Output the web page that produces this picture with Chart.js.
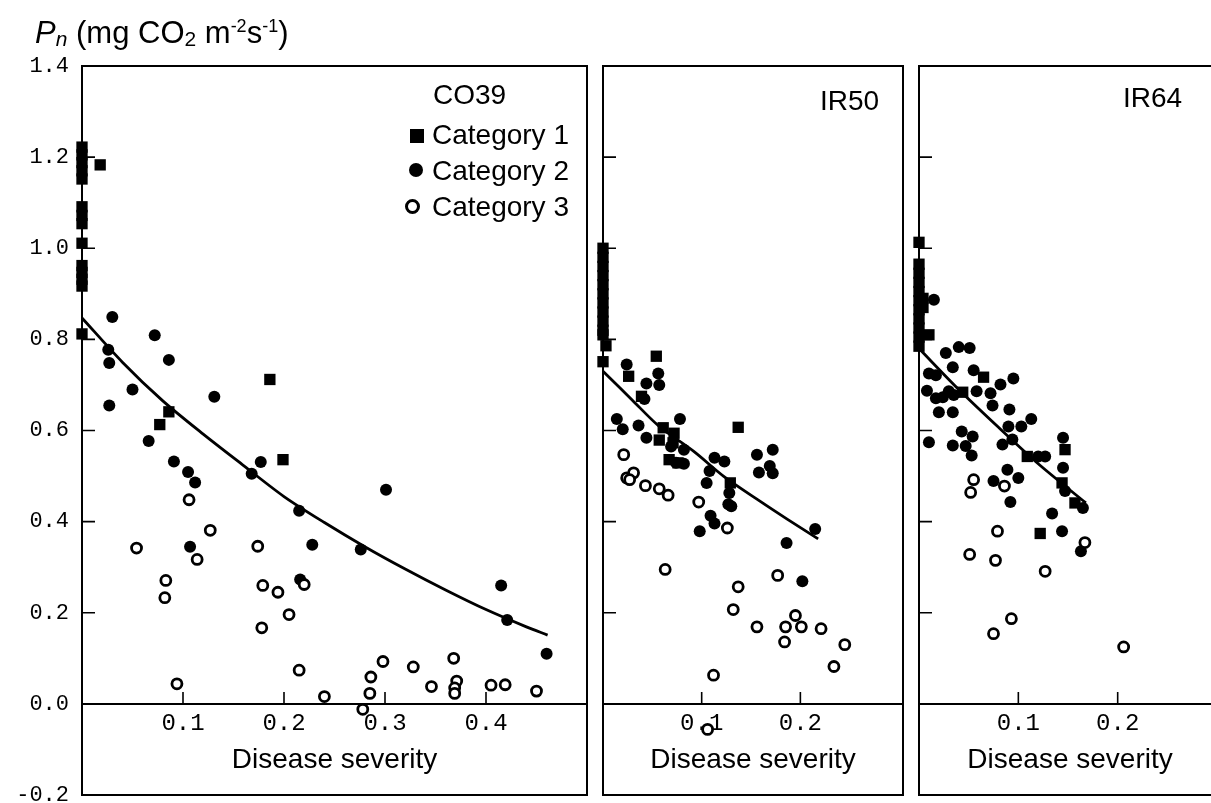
<!DOCTYPE html>
<html>
<head>
<meta charset="utf-8">
<script src="https://cdn.jsdelivr.net/npm/chart.js@4/dist/chart.umd.min.js"></script>
<style>
html,body{margin:0;padding:0;background:#fff;overflow:hidden;width:1211px;height:803px;}
#wrap{position:relative;width:1211px;height:803px;overflow:hidden;background:#fff;}
canvas{position:absolute;top:0;}
.txt{position:absolute;font-family:"Liberation Sans",Arial,Helvetica,sans-serif;color:#000;white-space:nowrap;line-height:1;}
.sub{position:relative;top:3px;font-size:21px;}
.sup{position:relative;top:-11px;font-size:18px;}
.mk{position:absolute;background:#000;}
</style>
</head>
<body>
<div id="wrap">
  <canvas id="c1" width="595" height="803" style="left:0px;width:595px;height:803px"></canvas>
  <canvas id="c2" width="316" height="803" style="left:595px;width:316px;height:803px"></canvas>
  <canvas id="c3" width="320" height="803" style="left:911px;width:320px;height:803px"></canvas>

  <div class="txt" style="left:35px;top:17px;font-size:31px"><i>P</i><span class="sub"><i>n</i></span> (mg CO<span class="sub">2</span> m<span class="sup">-2</span>s<span class="sup">-1</span>)</div>

  <div class="txt" style="left:433px;top:81px;font-size:28px">CO39</div>
  <div class="txt" style="left:820px;top:87px;font-size:28px">IR50</div>
  <div class="txt" style="left:1123px;top:84px;font-size:28px">IR64</div>

  <div class="mk" style="left:410px;top:129px;width:14px;height:14px"></div>
  <div class="txt" style="left:432px;top:121px;font-size:28px">Category 1</div>
  <div class="mk" style="left:409px;top:163px;width:14px;height:14px;border-radius:50%"></div>
  <div class="txt" style="left:432px;top:157px;font-size:28px">Category 2</div>
  <div class="mk" style="left:405px;top:199px;width:9px;height:9px;border-radius:50%;background:#fff;border:3px solid #000"></div>
  <div class="txt" style="left:432px;top:193px;font-size:28px">Category 3</div>
</div>
<script>
// ---------- data ----------
const yTickLabels = [1.4, 1.2, 1.0, 0.8, 0.6, 0.4, 0.2, 0.0, -0.2];
const yTickMarks = [1.2, 1.0, 0.8, 0.6, 0.4, 0.2];
const xTicksCO39 = [0.1, 0.2, 0.3, 0.4];
const xTicksIR = [0.1, 0.2];
const xTitle = 'Disease severity';

const co39Cat1 = [[0,1.222],[0,1.205],[0,1.188],[0,1.17],[0,1.152],[0.018,1.183],[0,1.091],[0,1.072],[0,1.054],[0,1.011],[0,0.962],[0,0.947],[0,0.932],[0,0.917],[0,0.812],[0.077,0.613],[0.086,0.641],[0.186,0.712],[0.199,0.536]];
const co39Cat2 = [[0.030,0.849],[0.026,0.777],[0.027,0.748],[0.027,0.655],[0.050,0.690],[0.072,0.809],[0.086,0.755],[0.066,0.577],[0.091,0.532],[0.105,0.509],[0.112,0.486],[0.107,0.345],[0.131,0.674],[0.168,0.505],[0.177,0.531],[0.215,0.424],[0.228,0.349],[0.216,0.273],[0.276,0.339],[0.301,0.470],[0.415,0.260],[0.421,0.184],[0.460,0.110]];
const co39Cat3 = [[0.106,0.448],[0.127,0.381],[0.054,0.342],[0.114,0.317],[0.083,0.271],[0.082,0.233],[0.174,0.346],[0.179,0.260],[0.194,0.245],[0.178,0.167],[0.205,0.196],[0.220,0.262],[0.215,0.074],[0.094,0.044],[0.240,0.016],[0.278,-0.012],[0.285,0.023],[0.286,0.059],[0.298,0.093],[0.328,0.081],[0.346,0.038],[0.368,0.100],[0.371,0.050],[0.369,0.035],[0.369,0.023],[0.405,0.041],[0.419,0.042],[0.450,0.028]];
const co39Fit = [[0,0.847],[0.04,0.75],[0.08,0.665],[0.12,0.592],[0.16,0.523],[0.2,0.455],[0.24,0.398],[0.28,0.345],[0.32,0.296],[0.36,0.250],[0.40,0.207],[0.44,0.169],[0.461,0.151]];

const ir50Cat1 = [[0,1.0],[0,0.98],[0,0.96],[0,0.94],[0,0.92],[0,0.90],[0,0.88],[0,0.86],[0,0.84],[0,0.82],[0,0.81],[0.003,0.786],[0,0.751],[0.054,0.763],[0.026,0.719],[0.039,0.675],[0.061,0.606],[0.057,0.579],[0.072,0.594],[0.071,0.573],[0.067,0.536],[0.076,0.529],[0.137,0.607],[0.129,0.485]];
const ir50Cat2 = [[0.024,0.745],[0.044,0.703],[0.056,0.725],[0.057,0.700],[0.042,0.669],[0.014,0.625],[0.020,0.603],[0.036,0.611],[0.044,0.584],[0.078,0.625],[0.069,0.565],[0.082,0.558],[0.082,0.527],[0.074,0.529],[0.113,0.540],[0.123,0.532],[0.108,0.511],[0.105,0.485],[0.128,0.463],[0.127,0.438],[0.130,0.434],[0.109,0.413],[0.113,0.396],[0.098,0.379],[0.156,0.547],[0.172,0.558],[0.158,0.508],[0.169,0.522],[0.172,0.506],[0.215,0.384],[0.186,0.353],[0.202,0.269]];
const ir50Cat3 = [[0.021,0.547],[0.024,0.496],[0.031,0.507],[0.027,0.492],[0.043,0.479],[0.057,0.472],[0.066,0.458],[0.097,0.443],[0.126,0.386],[0.063,0.295],[0.177,0.282],[0.137,0.257],[0.132,0.207],[0.156,0.169],[0.185,0.169],[0.195,0.194],[0.201,0.169],[0.221,0.165],[0.184,0.136],[0.245,0.130],[0.234,0.082],[0.112,0.063],[0.106,-0.056]];
const ir50Fit = [[0,0.73],[0.03,0.666],[0.057,0.609],[0.092,0.554],[0.122,0.500],[0.159,0.445],[0.187,0.405],[0.218,0.362]];

const ir64Cat1 = [[0,1.013],[0,0.965],[0,0.945],[0,0.925],[0,0.905],[0,0.885],[0,0.865],[0,0.845],[0,0.825],[0,0.805],[0,0.785],[0.004,0.89],[0.004,0.87],[0.010,0.810],[0.065,0.717],[0.044,0.684],[0.109,0.543],[0.147,0.558],[0.144,0.485],[0.157,0.441],[0.122,0.374]];
const ir64Cat2 = [[0.015,0.887],[0.027,0.770],[0.040,0.783],[0.051,0.781],[0.034,0.739],[0.010,0.725],[0.017,0.721],[0.008,0.687],[0.017,0.671],[0.024,0.673],[0.030,0.686],[0.035,0.678],[0.020,0.640],[0.034,0.640],[0.055,0.732],[0.058,0.686],[0.072,0.682],[0.074,0.655],[0.082,0.701],[0.095,0.714],[0.091,0.646],[0.090,0.609],[0.103,0.609],[0.113,0.625],[0.094,0.580],[0.084,0.569],[0.043,0.598],[0.054,0.587],[0.034,0.567],[0.010,0.574],[0.047,0.566],[0.053,0.545],[0.089,0.514],[0.075,0.489],[0.100,0.496],[0.092,0.443],[0.120,0.543],[0.127,0.543],[0.145,0.584],[0.145,0.518],[0.147,0.467],[0.165,0.430],[0.134,0.418],[0.144,0.379],[0.163,0.335]];
const ir64Cat3 = [[0.055,0.492],[0.052,0.464],[0.086,0.478],[0.079,0.379],[0.051,0.328],[0.077,0.315],[0.127,0.291],[0.167,0.354],[0.093,0.187],[0.075,0.154],[0.206,0.125]];
const ir64Fit = [[0,0.78],[0.04,0.69],[0.08,0.607],[0.12,0.527],[0.168,0.441]];

// ---------- drawing ----------
const INK = '#000';
const MONO = '"Liberation Mono", "DejaVu Sans Mono", monospace';
const SANS = '"Liberation Sans", Arial, Helvetica, sans-serif';
const toXY = arr => arr.map(p => ({x: p[0], y: p[1]}));

const framePlugin = {
  id: 'frame',
  beforeDatasetsDraw(chart) {
    const {ctx, chartArea: a, scales: {x, y}} = chart;
    ctx.save();
    ctx.strokeStyle = INK;
    ctx.lineWidth = 2;
    ctx.strokeRect(a.left, a.top, a.right - a.left, a.bottom - a.top);
    const y0 = y.getPixelForValue(0);
    ctx.beginPath();
    ctx.moveTo(a.left, y0); ctx.lineTo(a.right, y0);
    ctx.stroke();
    ctx.lineWidth = 1.6;
    ctx.beginPath();
    yTickMarks.forEach(v => { const py = y.getPixelForValue(v); ctx.moveTo(a.left, py); ctx.lineTo(a.left + 13, py); });
    x.ticks.forEach(t => { const px = x.getPixelForValue(t.value); ctx.moveTo(px, y0); ctx.lineTo(px, y0 - 12); });
    ctx.stroke();
    ctx.restore();
  }
};

function makeChart(id, cfg) {
  return new Chart(document.getElementById(id), {
    type: 'scatter',
    data: {
      datasets: [
        {label: 'Fit', data: toXY(cfg.fit), showLine: true, pointRadius: 0, borderColor: INK, borderWidth: 2.8, tension: 0.3, fill: false, order: 0, clip: false},
        {label: 'Category 3', data: toXY(cfg.cat3), pointStyle: 'circle', pointRadius: 5, pointBorderWidth: 2.8, backgroundColor: '#fff', borderColor: INK, pointBackgroundColor: '#fff', pointBorderColor: INK, order: 1, clip: false},
        {label: 'Category 2', data: toXY(cfg.cat2), pointStyle: 'circle', pointRadius: 6, pointBorderWidth: 0, backgroundColor: INK, borderColor: INK, pointBackgroundColor: INK, order: 2, clip: false},
        {label: 'Category 1', data: toXY(cfg.cat1), pointStyle: 'rect', pointRadius: 8, pointBorderWidth: 0, backgroundColor: INK, borderColor: INK, pointBackgroundColor: INK, order: 3, clip: false}
      ]
    },
    options: {
      responsive: false,
      animation: false,
      devicePixelRatio: 1,
      events: [],
      layout: {padding: cfg.pad},
      plugins: {legend: {display: false}, tooltip: {enabled: false}, title: {display: false}},
      scales: {
        x: {
          type: 'linear', min: 0, max: cfg.xMax, position: {y: 0},
          afterBuildTicks: s => { s.ticks = cfg.xTicks.map(v => ({value: v})); },
          afterFit: s => { s.paddingLeft = 0; s.paddingRight = 0; },
          ticks: {padding: 5, autoSkip: false, maxRotation: 0, color: INK, font: {family: MONO, size: 24}, callback: v => Number(v).toFixed(1)},
          grid: {display: false, drawTicks: false},
          border: {display: false},
          title: {display: true, text: xTitle, color: INK, font: {family: SANS, size: 28, lineHeight: 1}, padding: {top: 4, bottom: 0}}
        },
        y: {
          type: 'linear', min: -0.2, max: 1.4, display: cfg.showY,
          afterBuildTicks: s => { s.ticks = yTickLabels.map(v => ({value: v})); },
          afterFit: s => { if (cfg.showY) s.width = 82; s.paddingTop = 0; s.paddingBottom = 0; },
          ticks: {padding: 13, color: INK, font: {family: MONO, size: 22}, callback: v => Number(v).toFixed(1)},
          grid: {display: false, drawTicks: false},
          border: {display: false}
        }
      }
    },
    plugins: [framePlugin]
  });
}

makeChart('c1', {cat1: co39Cat1, cat2: co39Cat2, cat3: co39Cat3, fit: co39Fit, xMax: 0.5, xTicks: xTicksCO39, showY: true, pad: {left: 0, right: 6, top: 66, bottom: 7.5}});
makeChart('c2', {cat1: ir50Cat1, cat2: ir50Cat2, cat3: ir50Cat3, fit: ir50Fit, xMax: 0.304, xTicks: xTicksIR, showY: false, pad: {left: 7, right: 5, top: 66, bottom: 7.5}});
makeChart('c3', {cat1: ir64Cat1, cat2: ir64Cat2, cat3: ir64Cat3, fit: ir64Fit, xMax: 0.304, xTicks: xTicksIR, showY: false, pad: {left: 6, right: 10, top: 66, bottom: 7.5}});
</script>
</body>
</html>
